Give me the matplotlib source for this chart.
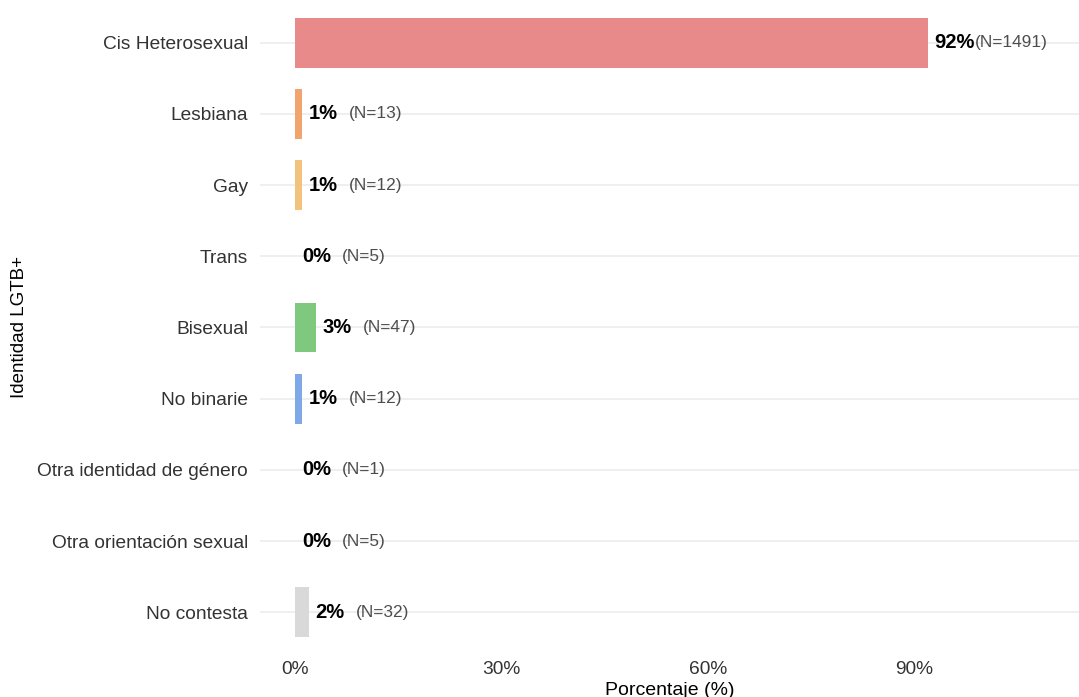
import matplotlib.pyplot as plt

# data (rounded percentages as drawn)
categorias = ["Cis Heterosexual", "Lesbiana", "Gay", "Trans", "Bisexual",
              "No binarie", "Otra identidad de género", "Otra orientación sexual",
              "No contesta"]
porcentaje = [92, 1, 1, 0, 3, 1, 0, 0, 2]
n_casos = [1491, 13, 12, 5, 47, 12, 1, 5, 32]
colores = ["#E8898A", "#F2A46F", "#F3C27C", "#C9A6E0", "#7FC97F",
           "#7FA8E8", "#A6D8E8", "#E8B6D0", "#D9D9D9"]
xticks = [0, 30, 60, 90]

plt.rcParams['font.family'] = ['Liberation Sans', 'DejaVu Sans']

fig = plt.figure(figsize=(10.79, 6.97), dpi=100)
ax = fig.add_axes([260 / 1079, 42 / 697, 1 - 260 / 1079, 1 - 42 / 697])

pos = list(range(len(categorias)))
ax.barh(pos, porcentaje, height=0.7, color=colores, zorder=2)

for y, v, n in zip(pos, porcentaje, n_casos):
    ax.text(v + 1.0, y, f"{v}%", ha="left", va="center", fontsize=14.5,
            fontweight="bold", color="black", zorder=3)
    ax.text(v + 6.8, y, f"(N={n})", ha="left", va="center", fontsize=12.4,
            color="#4D4D4D", zorder=3)

ax.set_ylim(len(categorias) - 0.4, -0.6)
ax.set_xlim(-5.1, 114)
ax.set_yticks(pos)
ax.set_yticklabels(categorias, fontsize=13.8, color="#333333")
ax.set_xticks(xticks)
ax.set_xticklabels([f"{t}%" for t in xticks], fontsize=13.8, color="#333333")
ax.tick_params(axis="y", length=0, pad=8.5)
ax.tick_params(axis="x", length=0, pad=4)

ax.grid(axis="y", color="#EBEBEB", linewidth=1.1, zorder=0)
ax.grid(axis="x", visible=False)
for s in ax.spines.values():
    s.set_visible(False)

ax.set_xlabel("Porcentaje (%)", fontsize=14, labelpad=3)
ax.set_ylabel("Identidad LGTB+", fontsize=13.5, labelpad=7)

fig.savefig("out.png", dpi=100)
